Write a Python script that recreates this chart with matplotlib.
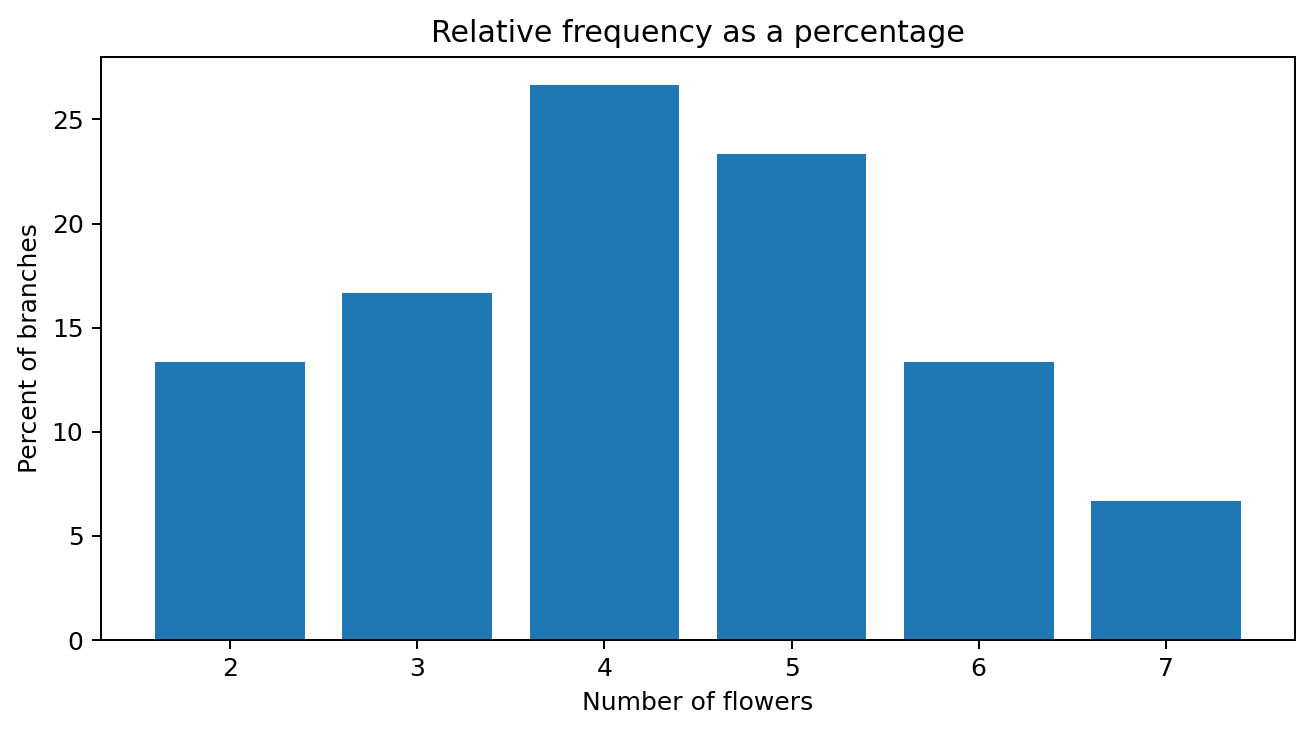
import numpy as np
import matplotlib
matplotlib.use("Agg")
import matplotlib.pyplot as plt

# branch counts out of 30 branches
flowers = [2, 3, 4, 5, 6, 7]
percent = [4 / 30 * 100, 5 / 30 * 100, 8 / 30 * 100, 7 / 30 * 100, 4 / 30 * 100, 2 / 30 * 100]

fig = plt.figure(figsize=(1312 / 180, 733 / 180), dpi=180)
ax = fig.add_axes([101 / 1312, 1 - 640 / 733, (1295 - 101) / 1312, (640 - 57) / 733])
ax.bar(flowers, percent)
ax.set_xlabel('Number of flowers')
ax.set_ylabel('Percent of branches')
ax.set_title('Relative frequency as a percentage')
fig.savefig('out.png', dpi=180)
